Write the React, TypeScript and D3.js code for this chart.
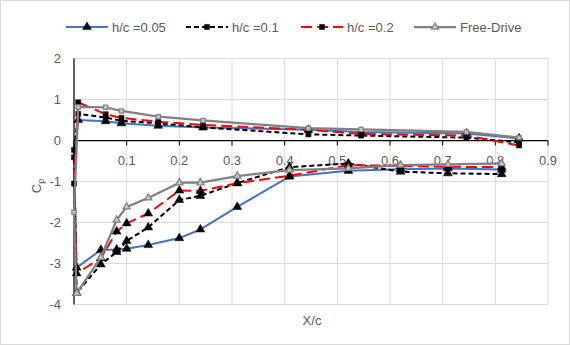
import React from "react";
import * as d3 from "d3";

// Chordwise stations (x/c)
const upperX = [0.008, 0.06, 0.09, 0.16, 0.245, 0.445, 0.545, 0.745, 0.845];
const lowerX = [0.005, 0.051, 0.081, 0.1, 0.141, 0.2, 0.24, 0.31, 0.409, 0.521, 0.62, 0.71, 0.812];
const stagnationX = 0;

// Pressure coefficients per case: upper surface, leading-edge point, lower surface
const hc005Upper = [0.5, 0.47, 0.42, 0.36, 0.32, 0.26, 0.21, 0.17, 0.05];
const hc005LE = -0.41;
const hc005Lower = [-3.1, -2.67, -2.66, -2.64, -2.55, -2.38, -2.17, -1.62, -0.88, -0.74, -0.7, -0.68, -0.71];

const hc01Upper = [0.65, 0.56, 0.48, 0.42, 0.32, 0.15, 0.12, 0.07, -0.05];
const hc01LE = -0.23;
const hc01Lower = [-3.72, -3.02, -2.72, -2.45, -2.12, -1.45, -1.35, -1.04, -0.65, -0.56, -0.76, -0.8, -0.82];

const hc02Upper = [0.93, 0.64, 0.55, 0.46, 0.38, 0.26, 0.16, 0.12, -0.12];
const hc02LE = -1.05;
const hc02Lower = [-3.24, -2.87, -2.22, -2.02, -1.78, -1.22, -1.23, -1.04, -0.86, -0.6, -0.62, -0.64, -0.65];

const freeUpper = [0.82, 0.81, 0.72, 0.58, 0.49, 0.3, 0.27, 0.21, 0.07];
const freeLE = -1.75;
const freeLower = [-3.73, -2.85, -1.94, -1.62, -1.4, -1.03, -1.03, -0.87, -0.72, -0.68, -0.6, -0.58, -0.56];

const seriesNames = ["h/c =0.05", "h/c =0.1", "h/c =0.2", "Free-Drive"];
const xTicks = [0.1, 0.2, 0.3, 0.4, 0.5, 0.6, 0.7, 0.8, 0.9];
const yTicks = [2, 1, 0, -1, -2, -3, -4];

type Pt = { x: number; y: number; surf: "u" | "s" | "l" };

function buildPoints(up: number[], le: number, lo: number[]): Pt[] {
  const pts: Pt[] = [];
  for (let i = up.length - 1; i >= 0; i--) pts.push({ x: upperX[i], y: up[i], surf: "u" });
  pts.push({ x: stagnationX, y: le, surf: "s" });
  lo.forEach((v, i) => pts.push({ x: lowerX[i], y: v, surf: "l" }));
  return pts;
}

const styles = [
  { color: "#4472C4", dash: "", upperMark: "tri", lowerMark: "tri", markFill: "#000", markStroke: "#000", legendMark: "tri" },
  { color: "#000000", dash: "5 3", upperMark: "sq", lowerMark: "tri", markFill: "#000", markStroke: "#000", legendMark: "sq" },
  { color: "#FF0000", dash: "11 5", upperMark: "sq", lowerMark: "tri", markFill: "#000", markStroke: "#000", legendMark: "sq" },
  { color: "#808080", dash: "", upperMark: "sq", lowerMark: "tri", markFill: "#c8c8c8", markStroke: "#808080", legendMark: "tri" },
];

const data = [
  buildPoints(hc005Upper, hc005LE, hc005Lower),
  buildPoints(hc01Upper, hc01LE, hc01Lower),
  buildPoints(hc02Upper, hc02LE, hc02Lower),
  buildPoints(freeUpper, freeLE, freeLower),
];

const W = 570;
const H = 345;
const FONT = "'Liberation Sans', Arial, sans-serif";
const TXT = "#595959";

const x = d3.scaleLinear().domain([0, 0.9]).range([74, 548]);
const y = d3.scaleLinear().domain([-4, 2]).range([304.5, 58.5]);

const triPath = d3.symbol(d3.symbolTriangle, 34)()!;
const sqPath = d3.symbol(d3.symbolSquare, 26)()!;
const triSmall = d3.symbol(d3.symbolTriangle, 22)()!;
const sqSmall = d3.symbol(d3.symbolSquare, 18)()!;

export default function App() {
  const line = d3
    .line<Pt>()
    .x((d) => x(d.x))
    .y((d) => y(d.y));

  const legendX = [66, 186, 301, 414];

  return (
    <div style={{ position: "absolute", left: 0, top: 0 }}>
      <svg width={W} height={H} style={{ display: "block", background: "#fff" }}>
        <rect x={0.5} y={0.5} width={W - 1} height={H - 1} fill="#fff" stroke="#d9d9d9" />

        {/* gridlines */}
        {xTicks.map((t) => (
          <line key={"gx" + t} x1={x(t)} x2={x(t)} y1={y(2)} y2={y(-4)} stroke="#d9d9d9" strokeWidth={1} />
        ))}
        {yTicks.map((t) => (
          <line key={"gy" + t} x1={x(0)} x2={x(0.9)} y1={y(t)} y2={y(t)} stroke="#d9d9d9" strokeWidth={1} />
        ))}

        {/* axes */}
        <line x1={x(0)} x2={x(0)} y1={y(2)} y2={y(-4)} stroke="#000" strokeWidth={1.25} />
        <line x1={x(0)} x2={x(0.9)} y1={y(0)} y2={y(0)} stroke="#000" strokeWidth={1.25} />
        {[0, ...xTicks].map((t) => (
          <line key={"tx" + t} x1={x(t)} x2={x(t)} y1={y(0)} y2={y(0) + 5} stroke="#000" strokeWidth={1} />
        ))}

        {/* tick labels */}
        {xTicks.map((t) => (
          <text key={"lx" + t} x={x(t)} y={y(0) + 24} textAnchor="middle" fontFamily={FONT} fontSize={13} fill={TXT}>
            {d3.format(".1f")(t)}
          </text>
        ))}
        {yTicks.map((t) => (
          <text key={"ly" + t} x={61} y={y(t) + 4.5} textAnchor="end" fontFamily={FONT} fontSize={13} fill={TXT}>
            {t < 0 ? "-" + Math.abs(t) : String(t)}
          </text>
        ))}

        {/* axis titles */}
        <text x={312} y={325} textAnchor="middle" fontFamily={FONT} fontSize={13} fill={TXT}>
          X/c
        </text>
        <text transform="translate(41,186) rotate(-90)" textAnchor="middle" fontFamily={FONT} fontSize={13} fill={TXT}>
          C<tspan fontSize={9} dy={3}>p</tspan>
        </text>

        {/* series */}
        {data.map((pts, i) => {
          const s = styles[i];
          const grey = i === 3;
          return (
            <g key={"s" + i}>
              <path
                d={line(pts)!}
                fill="none"
                stroke={s.color}
                strokeWidth={grey ? 2.25 : 2}
                strokeDasharray={s.dash || undefined}
                strokeLinejoin="round"
              />
              {pts.map((p, j) => {
                const kind = p.surf === "l" ? s.lowerMark : p.surf === "s" ? "sq" : s.upperMark;
                const d = grey ? (kind === "tri" ? triSmall : sqSmall) : kind === "tri" ? triPath : sqPath;
                return (
                  <path
                    key={j}
                    d={d}
                    transform={`translate(${x(p.x)},${y(p.y)})`}
                    fill={s.markFill}
                    stroke={s.markStroke}
                    strokeWidth={grey ? 1.25 : 0.5}
                  />
                );
              })}
            </g>
          );
        })}

        {/* legend */}
        {seriesNames.map((name, i) => {
          const s = styles[i];
          const lx = legendX[i];
          const ly = 27;
          const grey = i === 3;
          const m = s.legendMark === "tri" ? (grey ? triSmall : triPath) : sqPath;
          return (
            <g key={"lg" + i}>
              <line
                x1={lx}
                x2={lx + 42}
                y1={ly}
                y2={ly}
                stroke={s.color}
                strokeWidth={grey ? 2.25 : 2}
                strokeDasharray={s.dash || undefined}
              />
              <path
                d={m}
                transform={`translate(${lx + 21},${ly})`}
                fill={s.markFill}
                stroke={s.markStroke}
                strokeWidth={grey ? 1.25 : 0.5}
              />
              <text x={lx + 46} y={ly + 4.5} fontFamily={FONT} fontSize={13} fill={TXT}>
                {name}
              </text>
            </g>
          );
        })}
      </svg>
    </div>
  );
}
